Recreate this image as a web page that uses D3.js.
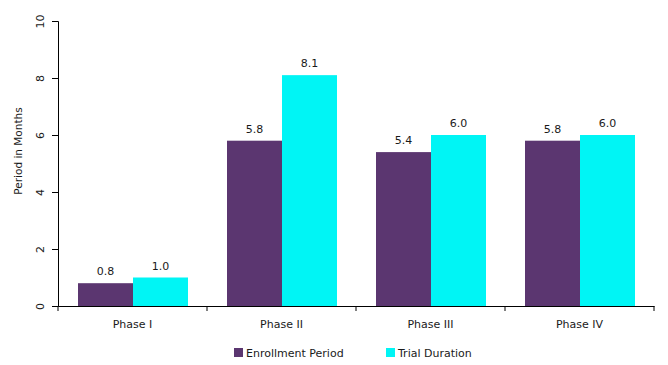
<!DOCTYPE html>
<html>
<head>
<meta charset="utf-8">
<script src="https://cdn.jsdelivr.net/npm/d3@7"></script>
<style>
  body { margin: 0; background: #fff; }
  text { font-family: Tahoma, "DejaVu Sans", sans-serif; fill: #1a1a1a; }
</style>
</head>
<body>
<svg width="668" height="365"></svg>
<script>
'use strict';

const phases = ['Phase I', 'Phase II', 'Phase III', 'Phase IV'];
const seriesNames = ['Enrollment Period', 'Trial Duration'];
const enrollment = [0.8, 5.8, 5.4, 5.8];
const trialDuration = [1.0, 8.1, 6.0, 6.0];
const yTicks = [0, 2, 4, 6, 8, 10];
const colors = ['#5B3670', '#00F5F5'];

const svg = d3.select('svg');
const margin = { top: 21, right: 14, bottom: 59, left: 58 };
const width = +svg.attr('width');
const height = +svg.attr('height');
const innerWidth = width - margin.left - margin.right;
const innerHeight = height - margin.top - margin.bottom;

const data = phases.map((p, i) => ({ phase: p, values: [enrollment[i], trialDuration[i]] }));

const xScale = d3.scaleBand().domain(phases).range([0, innerWidth]);
const xInner = d3.scaleBand().domain([0, 1]).range([20, xScale.bandwidth() - 19]);
const yScale = d3.scaleLinear().domain([0, 10]).range([innerHeight, 0]);

const g = svg.append('g').attr('transform', `translate(${margin.left},${margin.top})`);

// bars
const groups = g.selectAll('.grp').data(data).enter().append('g')
  .attr('transform', d => `translate(${xScale(d.phase)},0)`);

groups.selectAll('rect').data(d => d.values).enter().append('rect')
  .attr('x', (d, i) => xInner(i))
  .attr('width', xInner.bandwidth())
  .attr('y', d => yScale(d))
  .attr('height', d => innerHeight - yScale(d))
  .attr('fill', (d, i) => colors[i]);

groups.selectAll('.lbl').data(d => d.values).enter().append('text')
  .attr('x', (d, i) => xInner(i) + xInner.bandwidth() / 2)
  .attr('y', d => yScale(d) - 8)
  .attr('text-anchor', 'middle')
  .style('font-size', '11px')
  .text(d => d.toFixed(1));

// y axis
const yAxisG = g.append('g').call(d3.axisLeft(yScale).tickValues(yTicks).tickSize(6).tickPadding(0));
yAxisG.selectAll('text').remove();
yAxisG.selectAll('.tick').append('text')
  .attr('transform', 'translate(-18,0) rotate(-90)')
  .attr('text-anchor', 'middle')
  .attr('dy', '0.35em')
  .style('font-size', '11px')
  .text(d => d);

g.append('text')
  .attr('transform', `translate(-40,130) rotate(-90)`)
  .attr('text-anchor', 'middle')
  .attr('dy', '0.35em')
  .style('font-size', '10.5px')
  .text('Period in Months');

// x axis
const xAxisG = g.append('g')
  .attr('transform', `translate(0,${innerHeight})`)
  .call(d3.axisBottom(xScale).tickSize(0).tickPadding(14));
xAxisG.selectAll('text').style('font-size', '11px').attr('fill', '#1a1a1a');
xAxisG.selectAll('.bound').data(d3.range(phases.length + 1)).enter().append('line')
  .attr('x1', i => i * xScale.step()).attr('x2', i => i * xScale.step())
  .attr('y1', 0).attr('y2', 5)
  .attr('stroke', '#000');
g.selectAll('.domain').attr('stroke', '#000');
yAxisG.selectAll('line').attr('stroke', '#000');

// legend
const legendX = [234, 386];
const legend = svg.append('g').attr('transform', 'translate(0,348)');
seriesNames.forEach((name, i) => {
  legend.append('rect')
    .attr('x', legendX[i]).attr('y', 0)
    .attr('width', 9).attr('height', 9)
    .attr('fill', colors[i]);
  legend.append('text')
    .attr('x', legendX[i] + 12).attr('y', 9)
    .style('font-size', '11px')
    .text(name);
});
</script>
</body>
</html>
